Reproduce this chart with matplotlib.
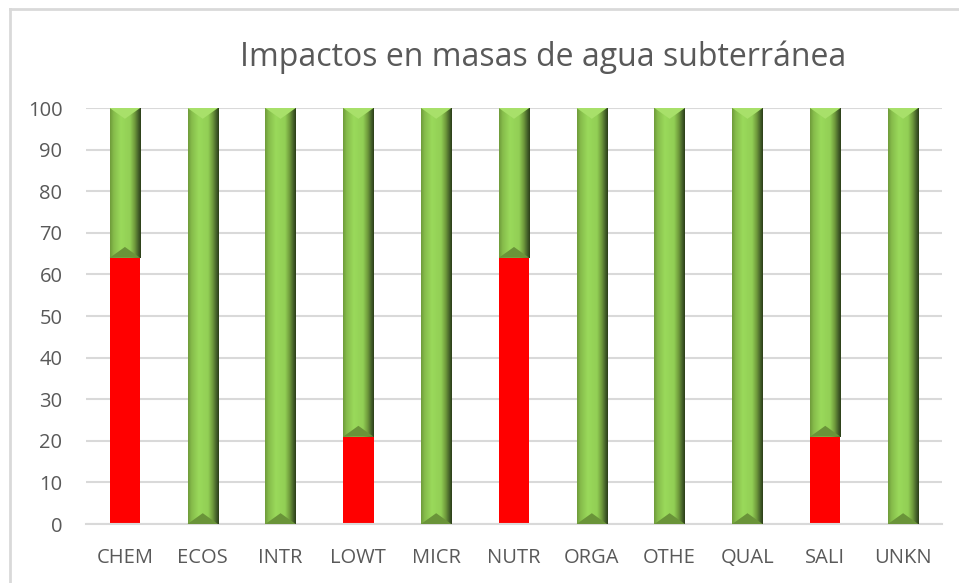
import matplotlib
matplotlib.use("Agg")
import matplotlib.pyplot as plt
import numpy as np
from matplotlib.colors import LinearSegmentedColormap
from matplotlib.patches import Polygon
from matplotlib.lines import Line2D

# impact categories and share of water bodies (percent)
categories = ['CHEM', 'ECOS', 'INTR', 'LOWT', 'MICR', 'NUTR', 'ORGA', 'OTHE', 'QUAL', 'SALI', 'UNKN']
affected = [64, 0, 0, 21, 0, 64, 0, 0, 0, 21, 0]
not_affected = [100 - v for v in affected]

plt.rcParams['font.family'] = ['Open Sans', 'DejaVu Sans']
text_gray = '#595959'
grid_gray = '#d9d9d9'

fig = plt.figure(figsize=(9.59, 5.83), dpi=100)
ax = fig.add_axes([86 / 959, 59 / 583, 856 / 959, 416 / 583])

x = np.arange(len(categories))
width = 0.39

red_bars = ax.bar(x, affected, width, color='#ff0000', zorder=2)
green_bars = ax.bar(x, not_affected, width, bottom=affected, color='#8cc44e', zorder=2)

# horizontal shading across each green bar
shade = LinearSegmentedColormap.from_list('bevel', [
    (0.0, '#6e9a3a'), (0.12, '#86bc4b'), (0.35, '#9ad95b'),
    (0.65, '#92cf55'), (0.8, '#6f9a3c'), (0.92, '#44602a'), (1.0, '#2b3d18')])
grad = np.linspace(0, 1, 256).reshape(1, -1)
for bar in green_bars:
    x0, y0 = bar.get_x(), bar.get_y()
    w, h = bar.get_width(), bar.get_height()
    img = ax.imshow(grad, cmap=shade, aspect='auto', extent=(x0, x0 + w, y0, y0 + h),
                    zorder=3, interpolation='bilinear')
    img.set_clip_path(bar)
    depth = 2.6
    cx = x0 + w / 2
    # light chevron at the top, darker wedge at the bottom
    ax.add_patch(Polygon([(x0, y0 + h), (x0 + w, y0 + h), (cx, y0 + h - depth)],
                         closed=True, facecolor='#a8e06a', edgecolor='none', zorder=4))
    ax.add_patch(Polygon([(x0, y0), (x0 + w, y0), (cx, y0 + depth)],
                         closed=True, facecolor='#6a9439', edgecolor='none', zorder=4))

ax.set_xlim(-0.5, len(categories) - 0.5)
ax.set_ylim(0, 100)
ax.set_yticks(range(0, 101, 10))
ax.set_xticks(x)
ax.set_xticklabels(categories)
ax.yaxis.grid(True, color=grid_gray, linewidth=1.5, zorder=0)
ax.set_axisbelow(True)
for side in ['top', 'right', 'left']:
    ax.spines[side].set_visible(False)
ax.spines['bottom'].set_color(grid_gray)
ax.spines['bottom'].set_linewidth(1.5)
ax.tick_params(axis='both', length=0, labelsize=14.5, labelcolor=text_gray)
ax.tick_params(axis='y', pad=17)
ax.tick_params(axis='x', pad=17)

fig.text(543 / 959, 1 - 57 / 583, 'Impactos en masas de agua subterránea',
         ha='center', va='center', fontsize=23, color=text_gray)

# chart frame
fig.add_artist(Line2D([9.5 / 959, 9.5 / 959], [0, 1 - 9 / 583], color=grid_gray, linewidth=2))
fig.add_artist(Line2D([9.5 / 959, 1], [1 - 9 / 583, 1 - 9 / 583], color=grid_gray, linewidth=2))

fig.savefig('out.png', dpi=100)
